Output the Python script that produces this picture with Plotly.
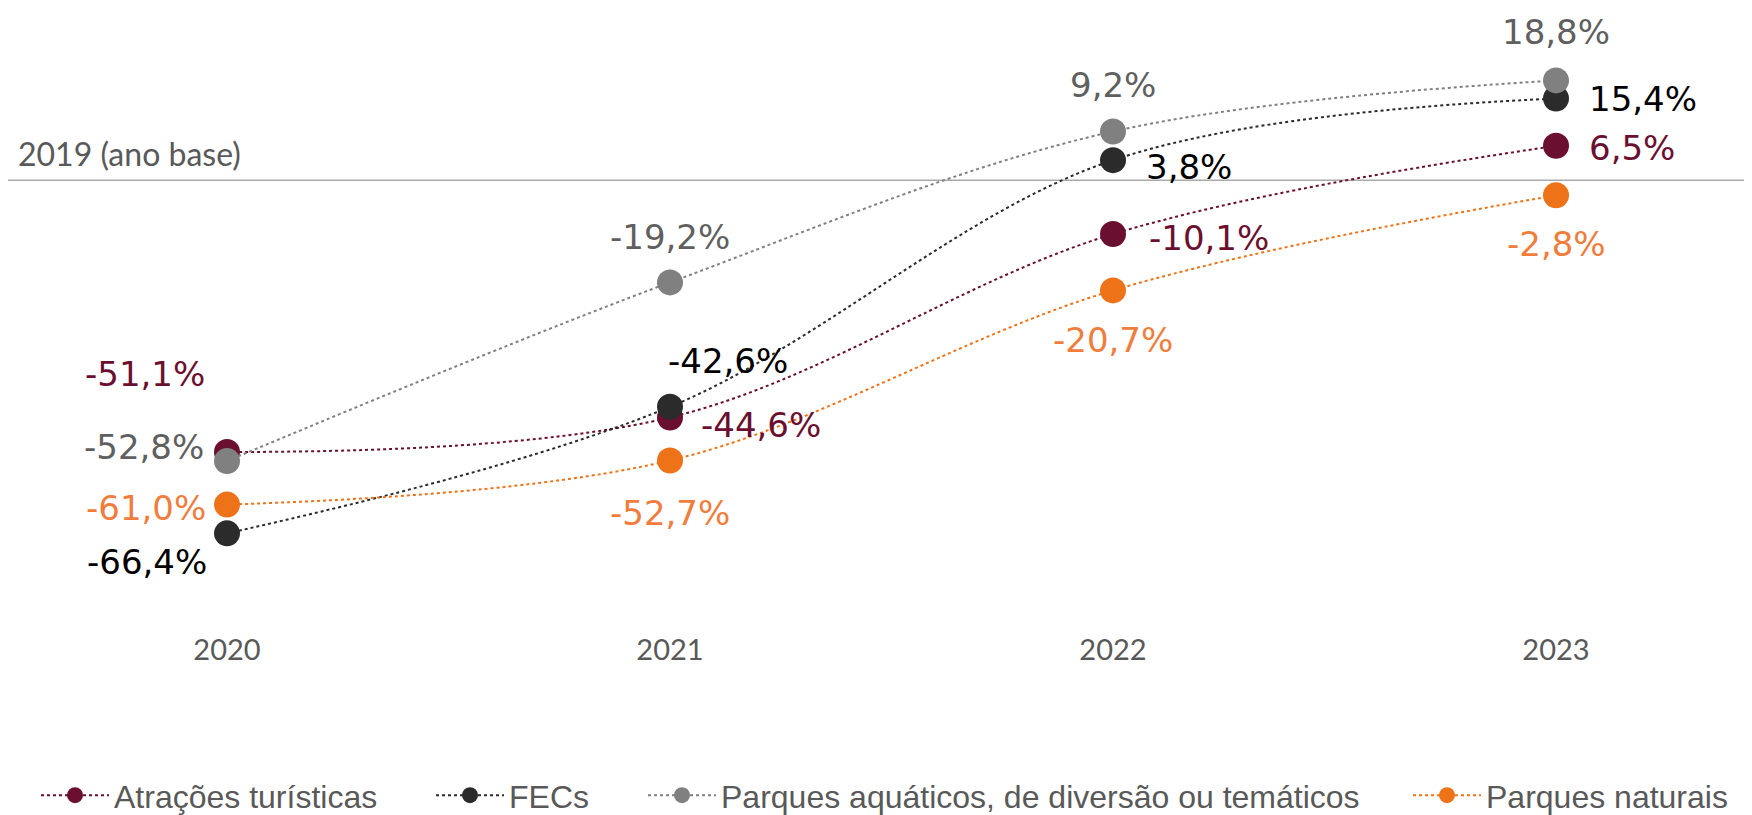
import plotly.graph_objects as go

years = [2020, 2021, 2022, 2023]
year_labels = ["2020", "2021", "2022", "2023"]

series_names = [
    "Atrações turísticas",
    "FECs",
    "Parques aquáticos, de diversão ou temáticos",
    "Parques naturais",
]
atracoes = [-51.1, -44.6, -10.1, 6.5]
fecs = [-66.4, -42.6, 3.8, 15.4]
parques_aquaticos = [-52.8, -19.2, 9.2, 18.8]
parques_naturais = [-61.0, -52.7, -20.7, -2.8]
series_values = [atracoes, fecs, parques_aquaticos, parques_naturais]

baseline_label = "2019 (ano base)"
baseline_value = 0

# ---- styles ----
marker_colors = ["#6B0F30", "#2B2B2B", "#808080", "#EE7318"]
label_colors = ["#6B0F30", "#000000", "#5F5F5F", "#F07D3C"]
# label placement (xanchor, dx px, dy px screen-down) per series per year
label_pos = [
    [("right", -21, -78), ("left", 30, 8), ("left", 35, 4), ("left", 32, 2)],
    [("right", -19, 29), ("left", -3, -46), ("left", 32, 7), ("left", 32, 0)],
    [("right", -22, -14), ("center", 0, -45), ("center", 0, -46), ("center", 0, -48)],
    [("right", -20, 3), ("center", 0, 52), ("center", 0, 50), ("center", 0, 49)],
]
# legend item left positions (figure px)
legend_x_px = [28, 423, 635, 1400]

PAGE_OFF = 8  # default html body margin
W, H = 1752 - PAGE_OFF, 815 - PAGE_OFF
px_per_year = 443.0
x0_px = 227.0 - PAGE_OFF
y_zero_px = 180.5 - PAGE_OFF
px_per_pct = 5.32
plot_bottom_px = 622.5
legend_center_px = 796.0 - PAGE_OFF

x_range = [years[0] - x0_px / px_per_year,
           years[-1] + (W - x0_px - 3 * px_per_year) / px_per_year]
y_range = [-(plot_bottom_px - y_zero_px) / px_per_pct, y_zero_px / px_per_pct]

legend_keys = ["legend", "legend2", "legend3", "legend4"]

fig = go.Figure()
for name, vals, col, lk in zip(series_names, series_values, marker_colors, legend_keys):
    fig.add_trace(go.Scatter(
        x=years, y=vals, name=name, mode="lines+markers", legend=lk,
        line=dict(color=col, width=2, dash="dot", shape="spline", smoothing=1),
        marker=dict(color=col, size=26),
    ))

annotations = []
for vals, lcol, pos in zip(series_values, label_colors, label_pos):
    for yr, v, (anc, dx, dy) in zip(years, vals, pos):
        annotations.append(dict(
            x=yr, y=v, xref="x", yref="y", showarrow=False,
            text=f"{v:.1f}%".replace(".", ","),
            font=dict(family="DejaVu Sans", size=34, color=lcol),
            xanchor=anc, yanchor="middle", xshift=dx, yshift=-dy, borderpad=0,
        ))
annotations.append(dict(
    x=9 / W, y=baseline_value, xref="paper", yref="y", showarrow=False,
    text=baseline_label, font=dict(family="Lato", size=32, color="#595959"),
    xanchor="left", yanchor="bottom", yshift=6, borderpad=0,
))

fig.add_shape(type="line", xref="paper", yref="y", x0=0, x1=1, y0=baseline_value, y1=baseline_value,
              line=dict(color="#AAAAAA", width=1.5), layer="below")

legend_common = dict(
    orientation="h", xanchor="left", yanchor="middle",
    y=(plot_bottom_px - legend_center_px) / plot_bottom_px,
    font=dict(family="Liberation Sans", size=32, color="#595959"),
    itemwidth=68, bgcolor="rgba(0,0,0,0)",
)
legend_layouts = {lk: dict(legend_common, x=lx / W) for lk, lx in zip(legend_keys, legend_x_px)}

fig.update_layout(
    width=W, height=H,
    margin=dict(l=0, r=0, t=0, b=H - plot_bottom_px, pad=0, autoexpand=False),
    paper_bgcolor="white", plot_bgcolor="white",
    showlegend=True,
    xaxis=dict(range=x_range, tickvals=years, ticktext=year_labels, showgrid=False, zeroline=False,
               showline=False, ticks="", tickfont=dict(family="Lato", size=29, color="#595959"),
               fixedrange=True),
    yaxis=dict(range=y_range, visible=False, showgrid=False, zeroline=False, fixedrange=True),
    annotations=annotations,
    **legend_layouts,
)

fig.write_html("out.html")
